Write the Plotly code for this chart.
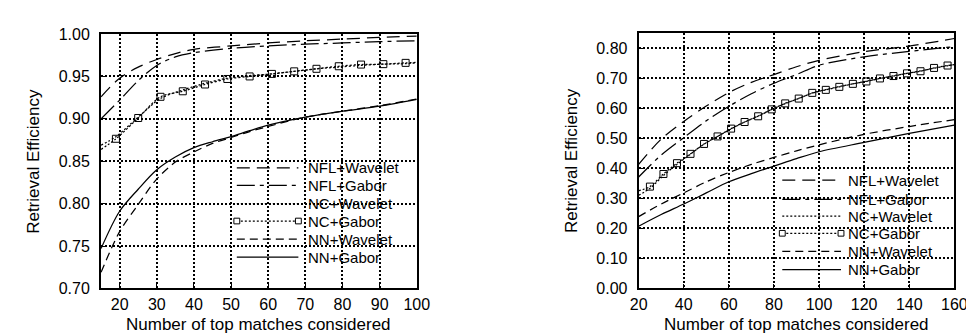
import plotly.graph_objects as go

# ---------------- data: left panel ----------------
xL_nfl = [15, 20, 25, 30, 35, 40, 50, 60, 70, 80, 90, 100]
nfl_wav_L = [0.926, 0.948, 0.961, 0.970, 0.977, 0.982, 0.986, 0.9895, 0.992, 0.994, 0.996, 0.9975]
nfl_gab_L = [0.900, 0.922, 0.945, 0.963, 0.973, 0.978, 0.983, 0.986, 0.988, 0.9895, 0.991, 0.992]

xL_nc = [15, 19, 25, 31, 37, 43, 49, 55, 61, 67, 73, 79, 85, 91, 97, 100]
nc_gab_L = [0.864, 0.8765, 0.901, 0.926, 0.9325, 0.9405, 0.947, 0.950, 0.953, 0.956, 0.959, 0.962, 0.964, 0.9645, 0.966, 0.9665]
nc_wav_L = [0.869, 0.879, 0.902, 0.924, 0.934, 0.942, 0.948, 0.951, 0.953, 0.956, 0.959, 0.961, 0.963, 0.9645, 0.965, 0.966]

xL_nn = [15, 20, 25, 30, 35, 40, 45, 50, 55, 60, 70, 80, 90, 100]
nn_gab_L = [0.747, 0.791, 0.817, 0.840, 0.855, 0.866, 0.873, 0.879, 0.886, 0.8925, 0.902, 0.909, 0.915, 0.923]
nn_wav_L = [0.719, 0.767, 0.799, 0.829, 0.849, 0.861, 0.871, 0.878, 0.885, 0.891, 0.902, 0.909, 0.9155, 0.9235]

# ---------------- data: right panel ----------------
xR = [20, 30, 40, 50, 60, 70, 80, 90, 100, 120, 140, 160]
nfl_wav_R = [0.413, 0.497, 0.556, 0.607, 0.652, 0.686, 0.712, 0.738, 0.759, 0.788, 0.807, 0.832]
nfl_gab_R = [0.371, 0.444, 0.502, 0.558, 0.606, 0.648, 0.683, 0.712, 0.743, 0.771, 0.789, 0.805]
nn_wav_R = [0.239, 0.281, 0.318, 0.355, 0.386, 0.413, 0.436, 0.458, 0.478, 0.513, 0.539, 0.562]
nn_gab_R = [0.207, 0.246, 0.281, 0.318, 0.355, 0.382, 0.407, 0.432, 0.455, 0.486, 0.516, 0.544]

xR_nc = [20] + list(range(25, 158, 6)) + [160]
nc_gab_R = [0.325, 0.339, 0.381, 0.417, 0.448, 0.481, 0.506, 0.532, 0.554, 0.573, 0.596, 0.616, 0.632,
            0.651, 0.661, 0.671, 0.681, 0.689, 0.699, 0.707, 0.716, 0.723, 0.734, 0.742, 0.745]
nc_wav_R = [0.310, 0.333, 0.376, 0.413, 0.447, 0.480, 0.506, 0.531, 0.554, 0.574, 0.596, 0.615, 0.633,
            0.650, 0.662, 0.672, 0.681, 0.690, 0.699, 0.708, 0.716, 0.724, 0.733, 0.741, 0.746]

legend_labels = ["NFL+Wavelet", "NFL+Gabor", "NC+Wavelet", "NC+Gabor", "NN+Wavelet", "NN+Gabor"]
x_title = "Number of top matches considered"
y_title = "Retrieval Efficiency"

# ---------------- styles ----------------
FONT = "Liberation Sans, Arial, sans-serif"
DASH = {
    "NFL+Wavelet": "13px,7px",
    "NFL+Gabor": "18px,5px,4px,5px",
    "NC+Wavelet": "2px,2px",
    "NC+Gabor": "2px,2px",
    "NN+Wavelet": "8px,5px",
    "NN+Gabor": "solid",
}
LW = 1.25

fig = go.Figure()


def add_line(x, y, name, xa, ya):
    fig.add_trace(go.Scatter(x=x, y=y, mode="lines", name=name, xaxis=xa, yaxis=ya,
                             line=dict(color="black", width=LW, dash=DASH[name], shape="spline", smoothing=0.9),
                             showlegend=False, hoverinfo="skip"))


def add_markers(x, y, xa, ya):
    fig.add_trace(go.Scatter(x=x, y=y, mode="markers", xaxis=xa, yaxis=ya,
                             marker=dict(symbol="square-open", size=7, color="black", line=dict(width=1)),
                             showlegend=False, hoverinfo="skip"))


# left panel
add_line(xL_nfl, nfl_wav_L, "NFL+Wavelet", "x", "y")
add_line(xL_nfl, nfl_gab_L, "NFL+Gabor", "x", "y")
add_line(xL_nc, nc_wav_L, "NC+Wavelet", "x", "y")
add_line(xL_nc, nc_gab_L, "NC+Gabor", "x", "y")
add_markers(xL_nc[1:-1], nc_gab_L[1:-1], "x", "y")
add_line(xL_nn, nn_wav_L, "NN+Wavelet", "x", "y")
add_line(xL_nn, nn_gab_L, "NN+Gabor", "x", "y")

# right panel
add_line(xR, nfl_wav_R, "NFL+Wavelet", "x2", "y2")
add_line(xR, nfl_gab_R, "NFL+Gabor", "x2", "y2")
add_line(xR_nc, nc_wav_R, "NC+Wavelet", "x2", "y2")
add_line(xR_nc, nc_gab_R, "NC+Gabor", "x2", "y2")
add_markers(xR_nc[1:-1], nc_gab_R[1:-1], "x2", "y2")
add_line(xR, nn_wav_R, "NN+Wavelet", "x2", "y2")
add_line(xR, nn_gab_R, "NN+Gabor", "x2", "y2")

W, H = 974, 335
# plot-area pixel boxes
L = dict(x0=86, x1=409, y0=19, y1=287)
R = dict(x0=636, x1=959, y0=18, y1=287)


def dom_x(b):
    return [b["x0"] / W, b["x1"] / W]


def dom_y(b):
    return [(H - b["y1"]) / H, (H - b["y0"]) / H]


axis_common = dict(showline=True, linewidth=2, linecolor="black", mirror=True,
                   showgrid=True, gridcolor="black", gridwidth=1.5, griddash="2px,2px",
                   ticks="inside", ticklen=4, tickcolor="black", tickwidth=1,
                   zeroline=False, tickfont=dict(family=FONT, size=16, color="black"))

fig.update_layout(
    width=W, height=H, margin=dict(l=0, r=0, t=0, b=0),
    paper_bgcolor="white", plot_bgcolor="white",
    xaxis=dict(domain=dom_x(L), range=[15, 100], dtick=10, tick0=0, anchor="y",
               ticklabelstandoff=0, **axis_common),
    yaxis=dict(domain=dom_y(L), range=[0.70, 1.00], dtick=0.05, tickformat=".2f", anchor="x",
               ticklabelstandoff=6, **axis_common),
    xaxis2=dict(domain=dom_x(R), range=[20, 160], dtick=20, tick0=0, anchor="y2",
                ticklabelstandoff=0, **axis_common),
    yaxis2=dict(domain=dom_y(R), range=[0, 0.85], dtick=0.1, tickformat=".2f", anchor="x2",
                ticklabelstandoff=6, **axis_common),
    showlegend=False,
)

shapes = []
annotations = []


def add_legend(xr, yr, box, rows, x_line0, x_line1, x_text):
    pw = box["x1"] - box["x0"]
    ph = box["y1"] - box["y0"]
    for lab, yy in zip(legend_labels, rows):
        shapes.append(dict(type="line", xref=xr, yref=yr, x0=x_line0, x1=x_line1, y0=yy, y1=yy,
                           line=dict(color="black", width=LW, dash=DASH[lab])))
        if lab == "NC+Gabor":
            hw, hh = 3 / pw, 3 / ph
            for xc in (x_line0, x_line1):
                shapes.append(dict(type="rect", xref=xr, yref=yr, x0=xc - hw, x1=xc + hw,
                                   y0=yy - hh, y1=yy + hh, line=dict(color="black", width=1),
                                   fillcolor="white"))
        annotations.append(dict(xref=xr, yref=yr, x=x_text, y=yy, text=lab, showarrow=False,
                                xanchor="left", yanchor="middle",
                                font=dict(family=FONT, size=15, color="black")))


add_legend("x domain", "y domain", L, [0.474, 0.405, 0.333, 0.265, 0.194, 0.123], 0.43, 0.625, 0.648)
add_legend("x2 domain", "y2 domain", R, [0.424, 0.349, 0.283, 0.216, 0.145, 0.074], 0.455, 0.641, 0.658)

# axis titles
for xr, cx in (("x domain", 0.5), ("x2 domain", 0.5)):
    annotations.append(dict(xref=xr, yref="paper", x=cx, y=(H - 325) / H, text=x_title, showarrow=False,
                            xanchor="center", yanchor="middle",
                            font=dict(family=FONT, size=17, color="black")))
for px, box in ((17, L), (568, R)):
    annotations.append(dict(xref="paper", yref="paper", x=px / W, y=1 - ((box["y0"] + box["y1"]) / 2) / H,
                            text=y_title, showarrow=False, textangle=-90,
                            xanchor="center", yanchor="middle",
                            font=dict(family=FONT, size=17, color="black")))

fig.update_layout(shapes=shapes, annotations=annotations)
fig.write_html("out.html")
